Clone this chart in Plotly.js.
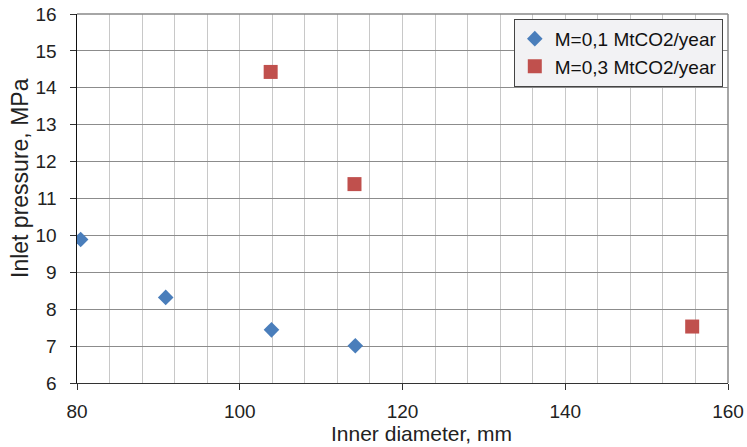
<!DOCTYPE html>
<html>
<head>
<meta charset="utf-8">
<script src="https://cdn.plot.ly/plotly-3.0.1.min.js"></script>
<style>html,body{margin:0;padding:0;background:#fff;}#chart{width:747px;height:447px;}</style>
</head>
<body>
<div id="chart"></div>
<script>
var seriesNames = ["M=0,1 MtCO2/year", "M=0,3 MtCO2/year"];
var diam01 = [80.45, 90.9, 103.9, 114.2];
var pres01 = [9.89, 8.32, 7.44, 7.01];
var diam03 = [103.8, 114.1, 155.6];
var pres03 = [14.43, 11.39, 7.53];
var xTickVals = [80, 100, 120, 140, 160];
var yTickVals = [6, 7, 8, 9, 10, 11, 12, 13, 14, 15, 16];
var xTitle = "Inner diameter, mm";
var yTitle = "Inlet pressure, MPa";

var font = "Liberation Sans, Arial, sans-serif";
var traces = [
  {x: diam01, y: pres01, name: seriesNames[0], mode: "markers", type: "scatter",
   marker: {symbol: "diamond", size: 12, color: "#4a7ebb", line: {width: 0}}},
  {x: diam03, y: pres03, name: seriesNames[1], mode: "markers", type: "scatter",
   marker: {symbol: "square", size: 14, color: "#c0504d", line: {width: 0}}}
];
var layout = {
  width: 747, height: 447,
  margin: {l: 77, r: 19, t: 14, b: 64},
  paper_bgcolor: "#fff", plot_bgcolor: "#fff",
  font: {family: font, size: 18, color: "#222"},
  showlegend: true,
  legend: {x: 0.992, y: 0.987, xanchor: "right", yanchor: "top",
    bgcolor: "#f2f2f4", bordercolor: "#444", borderwidth: 1,
    font: {family: font, size: 19, color: "#111"}, tracegroupgap: 0, itemwidth: 30},
  xaxis: {range: [80, 160], tickvals: xTickVals, ticks: "outside", ticklen: 6, tickcolor: "#333",
    showgrid: false, zeroline: false, showline: true, linecolor: "#333", linewidth: 1,
    ticklabelstandoff: 5, tickfont: {size: 19, color: "#222"},
    minor: {dtick: 4, showgrid: true, gridcolor: "#c8c8c8", gridwidth: 1, ticks: ""}},
  yaxis: {range: [6, 16], tickvals: yTickVals, ticks: "outside", ticklen: 6, tickcolor: "#333",
    showgrid: true, gridcolor: "#8c8c8c", gridwidth: 1, zeroline: false,
    showline: true, linecolor: "#111", linewidth: 1.5,
    ticklabelstandoff: 9, tickfont: {size: 19, color: "#222"}},
  annotations: [
    {text: xTitle, xref: "paper", yref: "paper", x: (421 - 77) / 651, y: (383 - 433.5) / 369,
     xanchor: "center", yanchor: "middle", showarrow: false, font: {family: font, size: 21, color: "#222"}},
    {text: yTitle, xref: "paper", yref: "paper", x: (20 - 77) / 651, y: (383 - 178) / 369,
     xanchor: "center", yanchor: "middle", textangle: -90, showarrow: false, font: {family: font, size: 23, color: "#222"}}
  ],
  shapes: [
    {type: "line", xref: "paper", yref: "paper", x0: 0, x1: 1, y0: 1, y1: 1, line: {color: "#888", width: 1.5}},
    {type: "line", xref: "paper", yref: "paper", x0: 1, x1: 1, y0: 0, y1: 1, line: {color: "#888", width: 1.5}}
  ]
};
Plotly.newPlot("chart", traces, layout, {displayModeBar: false, staticPlot: true});
</script>
</body>
</html>
